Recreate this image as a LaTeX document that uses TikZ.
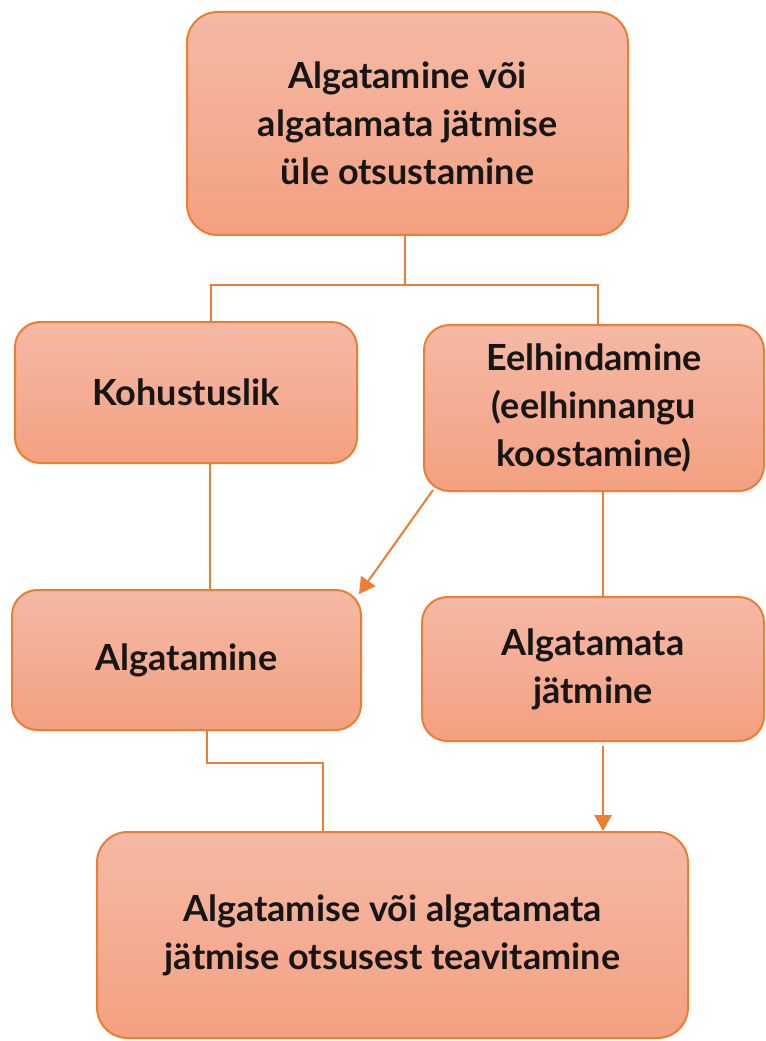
\documentclass[tikz,border=0pt]{standalone}
\usepackage{fontspec}
\setmainfont{Lato}
\usetikzlibrary{calc,arrows.meta}
\definecolor{edge}{HTML}{ED7D31}
\definecolor{ftop}{HTML}{F5B9A5}
\definecolor{fbot}{HTML}{F4A081}
\definecolor{txt}{HTML}{161616}
\tikzset{
  box/.style={draw=edge, line width=1.5pt, rounded corners=19pt, top color=ftop, bottom color=fbot,
    align=center, text=txt, font=\fontsize{27}{36}\selectfont\bfseries, inner sep=0pt, anchor=center},
  conn/.style={draw=edge, line width=1.5pt},
  arr/.style={conn, -{Triangle[length=12pt,width=13pt]}}
}
\begin{document}
\begin{tikzpicture}[x=0.75pt,y=-0.75pt]
\useasboundingbox (0,0) rectangle (765,1041);
\node[box, minimum width=441*0.75pt, minimum height=223*0.75pt, rounded corners=23pt] (top) at (407.5,123.5)
  {Algatamine või\\algatamata jätmise\\üle otsustamine};
\node[box, minimum width=342*0.75pt, minimum height=141*0.75pt] (koh) at (186,392.5) {Kohustuslik};
\node[box, minimum width=340*0.75pt, minimum height=166*0.75pt] (eel) at (594,408)
  {Eelhindamine\\(eelhinnangu\\koostamine)};
\node[box, minimum width=349*0.75pt, minimum height=140*0.75pt] (alg) at (186.5,660) {Algatamine};
\node[box, minimum width=342*0.75pt, minimum height=144*0.75pt] (alm) at (593,669) {Algatamata\\jätmine};
\node[box, minimum width=591*0.75pt, minimum height=206*0.75pt, rounded corners=23pt] (bot) at (392.5,935)
  {Algatamise või algatamata\\jätmise otsusest teavitamine};
% connectors
\draw[conn] ($(top.south)+(-3,0)$) -- ++(0,49) coordinate (jt);
\draw[conn] ($(koh.north)+(25,0)$) |- (jt) -| ($(eel.north)+(4,0)$);
\draw[conn] ($(koh.south)+(24,0)$) coordinate (k1) -- (k1 |- alg.north);
\draw[arr] ($(eel.south west)+(10,-2)$) -- ($(alg.north east)+(-3,5)$);
\draw[conn] ($(eel.south)+(9,0)$) coordinate (e1) -- (e1 |- alm.north);
\draw[conn] ($(alg.south)+(20.5,0)$) -- ++(0,32) -| ($(bot.north)+(-69.5,0)$);
\draw[arr] ($(alm.south)+(10,4)$) -- ($(bot.north)+(210.5,0)$);
\end{tikzpicture}
\end{document}
